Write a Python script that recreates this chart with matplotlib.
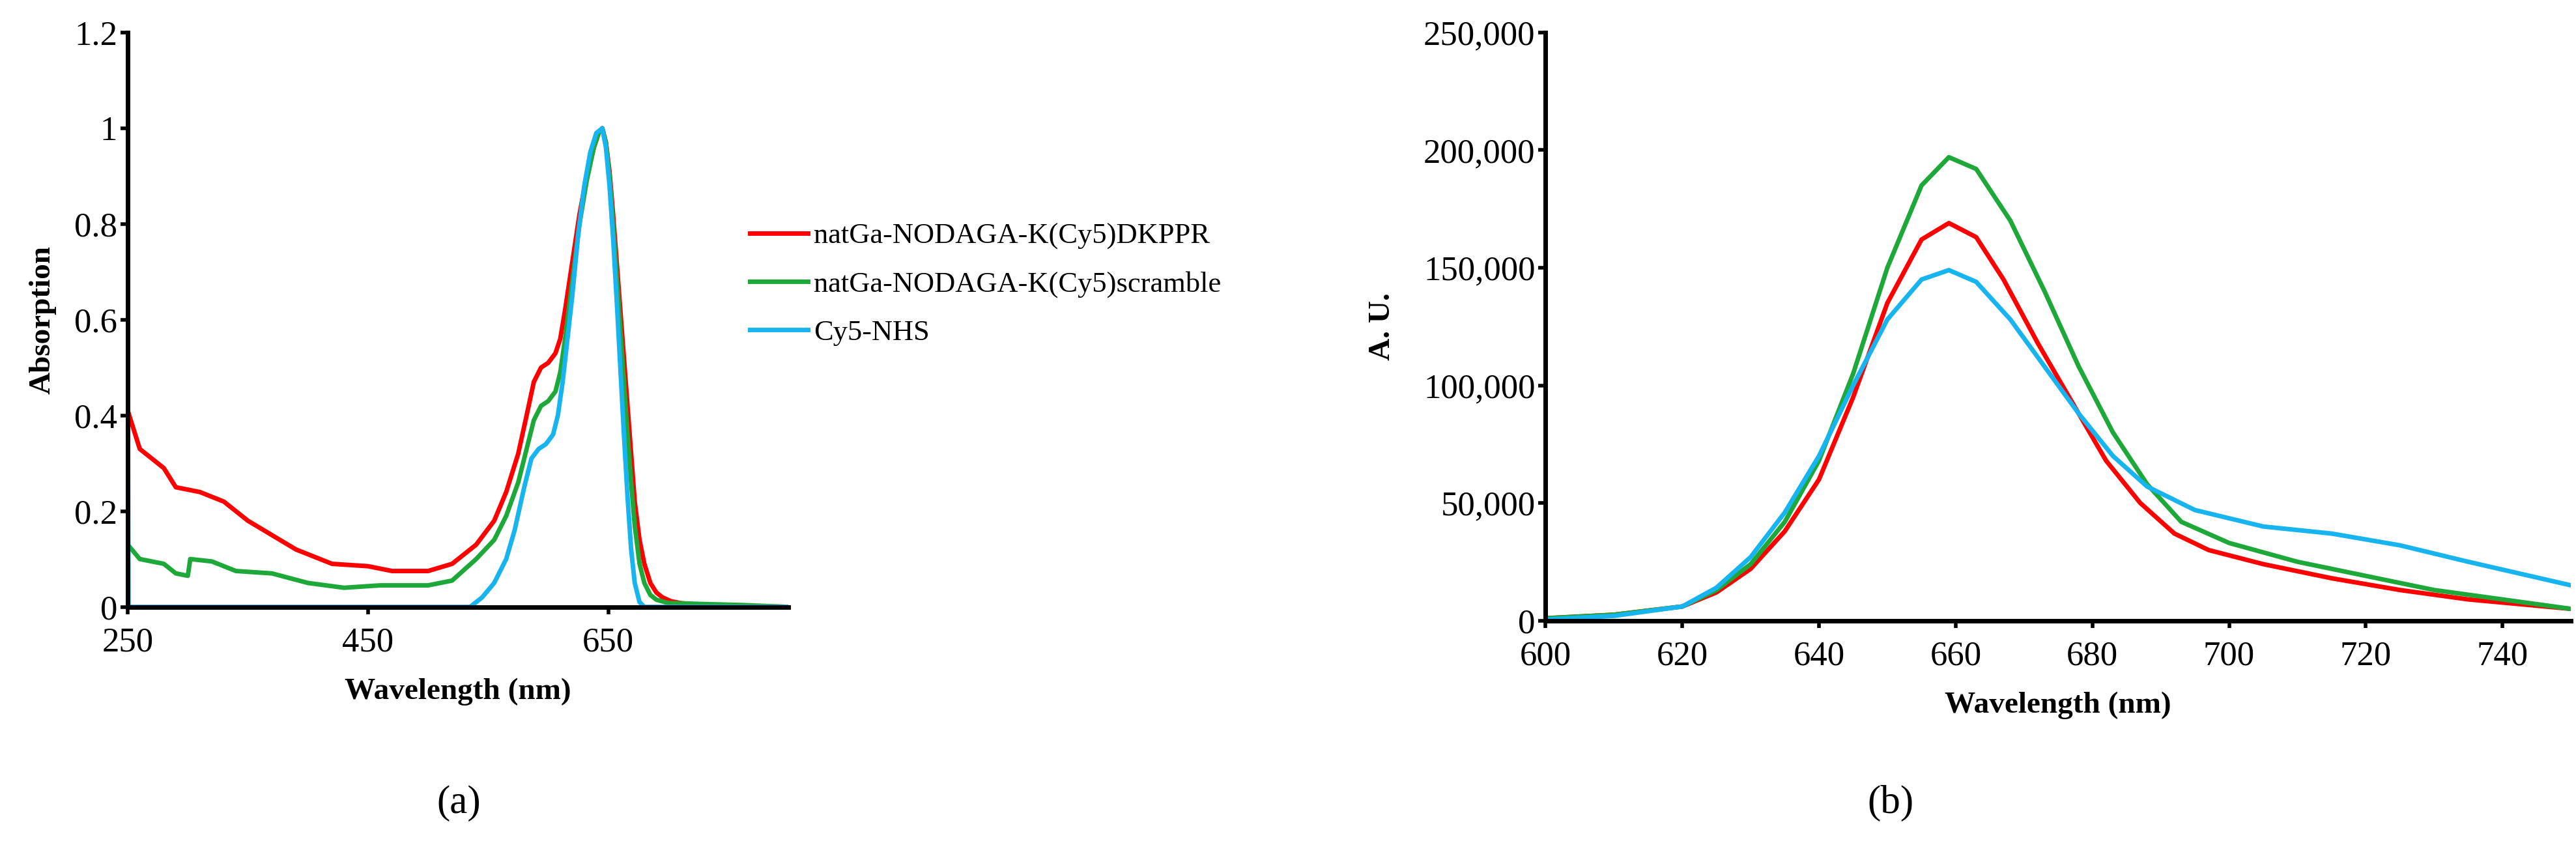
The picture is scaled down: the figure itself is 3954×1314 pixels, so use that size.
import matplotlib
matplotlib.use('Agg')
import matplotlib.pyplot as plt

plt.rcParams['font.family'] = ['Liberation Serif', 'DejaVu Serif']

# absorption spectra (a)
wl_red = [250, 260, 270, 280, 290, 300, 310, 330, 350, 370, 390, 420, 450, 470, 500, 520, 540, 555, 565, 575, 582, 588, 594, 600, 606, 610, 614, 620, 626, 632, 638, 642, 645, 648, 651, 654, 657, 660, 663, 666, 669, 672, 676, 680, 685, 690, 695, 702, 710, 730, 800]
abs_red = [0.41, 0.33, 0.31, 0.29, 0.25, 0.245, 0.24, 0.22, 0.18, 0.15, 0.12, 0.09, 0.085, 0.075, 0.075, 0.09, 0.13, 0.18, 0.24, 0.32, 0.40, 0.47, 0.50, 0.51, 0.53, 0.56, 0.62, 0.72, 0.82, 0.90, 0.96, 0.99, 1.0, 0.97, 0.91, 0.82, 0.72, 0.62, 0.52, 0.42, 0.32, 0.22, 0.14, 0.09, 0.05, 0.03, 0.02, 0.012, 0.008, 0.004, 0.0]
wl_green = [250, 260, 280, 290, 300, 302, 320, 340, 370, 400, 430, 460, 500, 520, 540, 555, 565, 575, 582, 588, 594, 600, 606, 610, 614, 620, 626, 632, 638, 642, 645, 648, 651, 654, 657, 660, 663, 666, 669, 672, 676, 680, 685, 690, 700, 760, 800]
abs_green = [0.13, 0.1, 0.09, 0.07, 0.065, 0.1, 0.095, 0.075, 0.07, 0.05, 0.04, 0.045, 0.045, 0.055, 0.1, 0.14, 0.19, 0.26, 0.33, 0.39, 0.42, 0.43, 0.45, 0.49, 0.56, 0.68, 0.80, 0.89, 0.96, 0.99, 1.0, 0.97, 0.90, 0.80, 0.69, 0.58, 0.47, 0.36, 0.26, 0.17, 0.09, 0.05, 0.025, 0.015, 0.008, 0.004, 0.0]
wl_cyan = [250, 250.5, 251, 535, 545, 555, 565, 572, 580, 586, 592, 598, 604, 608, 612, 616, 620, 625, 630, 635, 640, 645, 648, 651, 654, 657, 660, 663, 666, 669, 672, 676, 680, 800]
abs_cyan = [0.55, 0.0, 0.0, 0.0, 0.02, 0.05, 0.1, 0.16, 0.25, 0.31, 0.33, 0.34, 0.36, 0.40, 0.47, 0.56, 0.65, 0.78, 0.88, 0.95, 0.99, 1.0, 0.96, 0.88, 0.77, 0.64, 0.50, 0.36, 0.23, 0.12, 0.05, 0.01, 0.0, 0.0]

# emission spectra (b)
em_wl_red = [600, 610, 620, 625, 630, 635, 640, 645, 650, 655, 659, 663, 667, 672, 677, 682, 687, 692, 697, 705, 715, 725, 735, 750]
em_red = [1000, 2500, 6000, 12000, 22000, 38000, 60000, 95000, 135000, 162000, 169000, 163000, 145000, 118000, 93000, 68000, 50000, 37000, 30000, 24000, 18000, 13000, 9000, 5000]
em_wl_green = [600, 610, 620, 625, 630, 635, 640, 645, 650, 655, 659, 663, 668, 673, 678, 683, 688, 693, 700, 710, 720, 730, 740, 750]
em_green = [1000, 2500, 6000, 13000, 24000, 42000, 68000, 105000, 150000, 185000, 197000, 192000, 170000, 140000, 108000, 80000, 58000, 42000, 33000, 25000, 19000, 13000, 9000, 5000]
em_wl_cyan = [600, 610, 620, 625, 630, 635, 640, 645, 650, 655, 659, 663, 668, 673, 678, 683, 688, 695, 705, 715, 725, 735, 750]
em_cyan = [500, 2000, 6000, 14000, 27000, 46000, 70000, 100000, 128000, 145000, 149000, 144000, 128000, 108000, 88000, 70000, 57000, 47000, 40000, 37000, 32000, 25000, 15000]

labels = ['natGa-NODAGA-K(Cy5)DKPPR', 'natGa-NODAGA-K(Cy5)scramble', 'Cy5-NHS']
colors = ['#ff0000', '#1fa83a', '#18b4ef']

fig = plt.figure(figsize=(39.54, 13.14), dpi=100)

ax1 = fig.add_axes([0.0496, 0.291, 0.2565, 0.671])
ax1.plot(wl_red, abs_red, color=colors[0], lw=5, label=labels[0])
ax1.plot(wl_green, abs_green, color=colors[1], lw=5, label=labels[1])
ax1.plot(wl_cyan, abs_cyan, color=colors[2], lw=5, label=labels[2])
ax1.set_xlim(250, 800)
ax1.set_ylim(0, 1.2)
ax1.set_xticks([250, 450, 650])
ax1.set_yticks([0, 0.2, 0.4, 0.6, 0.8, 1, 1.2])
ax1.set_yticklabels(['0', '0.2', '0.4', '0.6', '0.8', '1', '1.2'])
ax1.set_xlabel('Wavelength (nm)', fontsize=34, fontweight='bold', labelpad=22)
ax1.set_ylabel('Absorption', fontsize=34, fontweight='bold', labelpad=20)
fig.legend(loc='upper left', bbox_to_anchor=(0.281, 0.77), fontsize=32, frameon=False,
           handlelength=2.0, labelspacing=0.75, handletextpad=0.2)

ax2 = fig.add_axes([0.600, 0.275, 0.398, 0.687])
ax2.plot(em_wl_red, em_red, color=colors[0], lw=5)
ax2.plot(em_wl_green, em_green, color=colors[1], lw=5)
ax2.plot(em_wl_cyan, em_cyan, color=colors[2], lw=5)
ax2.set_xlim(600, 750)
ax2.set_ylim(0, 250000)
ax2.set_xticks(range(600, 741, 20))
ax2.set_yticks(range(0, 250001, 50000))
ax2.set_yticklabels(['0', '50,000', '100,000', '150,000', '200,000', '250,000'])
ax2.set_xlabel('Wavelength (nm)', fontsize=34, fontweight='bold', labelpad=22)
ax2.set_ylabel('A. U.', fontsize=34, fontweight='bold', labelpad=30)

for ax in (ax1, ax2):
    for s in ('top', 'right'):
        ax.spines[s].set_visible(False)
    for s in ('left', 'bottom'):
        ax.spines[s].set_linewidth(5)
    ax.tick_params(labelsize=38, width=4, length=8)
    ax.tick_params(axis='x', pad=14)

fig.text(0.178, 0.05, '(a)', fontsize=44, ha='center')
fig.text(0.734, 0.05, '(b)', fontsize=44, ha='center')

fig.savefig('out.png', dpi=100)
